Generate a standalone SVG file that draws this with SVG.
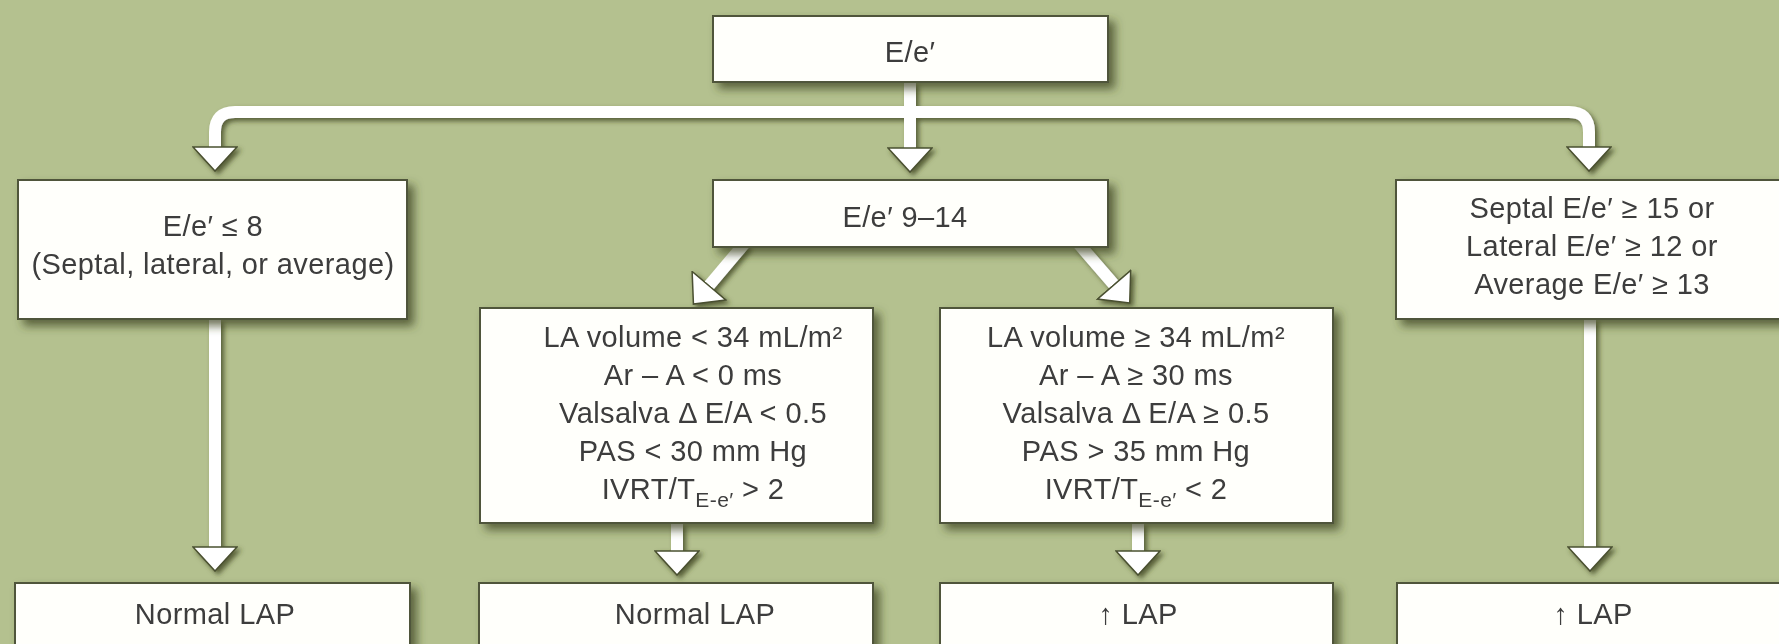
<svg xmlns="http://www.w3.org/2000/svg" width="1779" height="644" viewBox="0 0 1779 644">
  <defs>
    <filter id="boxShadow" x="-10%" y="-20%" width="130%" height="150%">
      <feDropShadow dx="6" dy="6" stdDeviation="5" flood-color="#3c4520" flood-opacity="0.75"/>
    </filter>
    <filter id="lineShadow" x="-5%" y="-5%" width="110%" height="115%">
      <feDropShadow dx="3" dy="3" stdDeviation="2.5" flood-color="#3c4520" flood-opacity="0.8"/>
    </filter>
    <marker id="head" viewBox="0 0 26 46" refX="4" refY="23" markerWidth="26" markerHeight="46" markerUnits="userSpaceOnUse" orient="auto">
      <path d="M1,1 L25,23 L1,45 Z" fill="#ffffff" stroke="#4a5030" stroke-width="1.5" stroke-linejoin="miter"/>
    </marker>
  </defs>
  <style>
    .box { fill: #fffffb; stroke: #50553a; stroke-width: 2; }
    .node { filter: url(#boxShadow); }
    .t { font-family: "Liberation Sans", Arial, sans-serif; font-size: 29px; letter-spacing: 0.4px; fill: #3c3c3c; text-anchor: middle; }
    .sub { font-size: 21px; }
    .conn { fill: none; stroke: #ffffff; stroke-width: 12; marker-end: url(#head); }
  </style>

  <rect x="0" y="0" width="1779" height="644" fill="#b4c18f"/>

  <g id="connectors" filter="url(#lineShadow)">
    <path class="conn" d="M910,82 V151"/>
    <path class="conn" d="M910,112 H235 Q215,112 215,132 V150"/>
    <path class="conn" d="M910,112 H1569 Q1589,112 1589,132 V150"/>
    <path class="conn" d="M745,243 L707,288"/>
    <path class="conn" d="M1078,243 L1116,287"/>
    <path class="conn" d="M215,319 V550"/>
    <path class="conn" d="M677,523 V554"/>
    <path class="conn" d="M1138,523 V554"/>
    <path class="conn" d="M1590,319 V550"/>
  </g>

  <g id="node-top" class="node">
    <rect class="box" x="713" y="16" width="395" height="66"/>
    <text class="t" x="910" y="62">E/e′</text>
  </g>

  <g id="node-low" class="node">
    <rect class="box" x="18" y="180" width="389" height="139"/>
    <text class="t" x="213" y="236">E/e′ ≤ 8</text>
    <text class="t" x="213" y="274">(Septal, lateral, or average)</text>
  </g>

  <g id="node-mid" class="node">
    <rect class="box" x="713" y="180" width="395" height="67"/>
    <text class="t" x="905" y="227">E/e′ 9–14</text>
  </g>

  <g id="node-high" class="node">
    <rect class="box" x="1396" y="180" width="400" height="139"/>
    <text class="t" x="1592" y="218">Septal E/e′ ≥ 15 or</text>
    <text class="t" x="1592" y="256">Lateral E/e′ ≥ 12 or</text>
    <text class="t" x="1592" y="294">Average E/e′ ≥ 13</text>
  </g>

  <g id="node-mid-normal" class="node">
    <rect class="box" x="480" y="308" width="393" height="215"/>
    <text class="t" x="693" y="347">LA volume &lt; 34 mL/m²</text>
    <text class="t" x="693" y="385">Ar – A &lt; 0 ms</text>
    <text class="t" x="693" y="423">Valsalva Δ E/A &lt; 0.5</text>
    <text class="t" x="693" y="461">PAS &lt; 30 mm Hg</text>
    <text class="t" x="693" y="499">IVRT/T<tspan class="sub" dy="8">E-e′</tspan><tspan dy="-8"> &gt; 2</tspan></text>
  </g>

  <g id="node-mid-high" class="node">
    <rect class="box" x="940" y="308" width="393" height="215"/>
    <text class="t" x="1136" y="347">LA volume ≥ 34 mL/m²</text>
    <text class="t" x="1136" y="385">Ar – A ≥ 30 ms</text>
    <text class="t" x="1136" y="423">Valsalva Δ E/A ≥ 0.5</text>
    <text class="t" x="1136" y="461">PAS &gt; 35 mm Hg</text>
    <text class="t" x="1136" y="499">IVRT/T<tspan class="sub" dy="8">E-e′</tspan><tspan dy="-8"> &lt; 2</tspan></text>
  </g>

  <g id="out-1" class="node">
    <rect class="box" x="15" y="583" width="395" height="90"/>
    <text class="t" x="215" y="624">Normal LAP</text>
  </g>

  <g id="out-2" class="node">
    <rect class="box" x="479" y="583" width="394" height="90"/>
    <text class="t" x="695" y="624">Normal LAP</text>
  </g>

  <g id="out-3" class="node">
    <rect class="box" x="940" y="583" width="393" height="90"/>
    <text class="t" x="1138" y="624">↑ LAP</text>
  </g>

  <g id="out-4" class="node">
    <rect class="box" x="1397" y="583" width="400" height="90"/>
    <text class="t" x="1593" y="624">↑ LAP</text>
  </g>
</svg>
